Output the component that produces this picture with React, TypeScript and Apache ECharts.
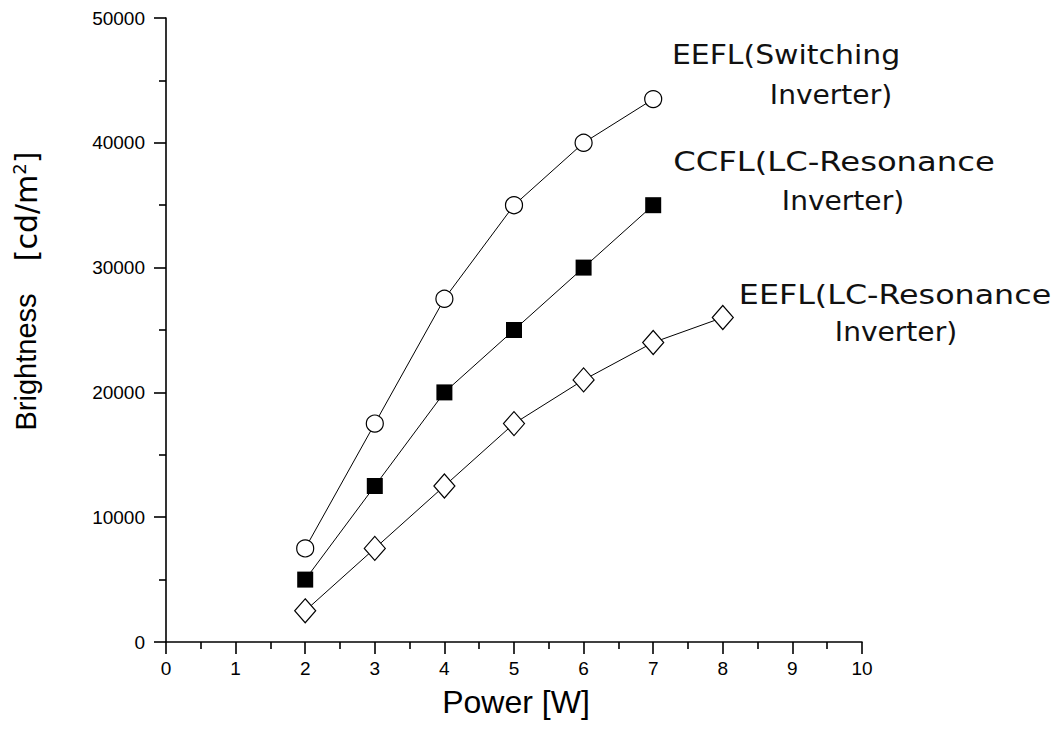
import React, { useEffect, useRef } from "react";
import * as echarts from "echarts";

const powerSwitching = [2, 3, 4, 5, 6, 7];
const eeflSwitching = [7500, 17500, 27500, 35000, 40000, 43500];
const powerCcfl = [2, 3, 4, 5, 6, 7];
const ccflLc = [5000, 12500, 20000, 25000, 30000, 35000];
const powerEeflLc = [2, 3, 4, 5, 6, 7, 8];
const eeflLc = [2500, 7500, 12500, 17500, 21000, 24000, 26000];

const annoFont = "'DejaVu Sans', sans-serif";
const axisFont = "'Liberation Sans', Arial, sans-serif";

export default function App() {
  const ref = useRef<HTMLDivElement>(null);
  useEffect(() => {
    const chart = echarts.init(ref.current!, null, { renderer: "svg" });
    const pair = (xs: number[], ys: number[]) => xs.map((x, i) => [x, ys[i]]);
    const lineStyle = { color: "#000", width: 1 };
    const anno = (text: string, x: number, y: number, sx: number) => ({
      type: "text",
      x,
      y,
      scaleX: sx,
      style: {
        text,
        fontFamily: annoFont,
        fontSize: 26,
        fill: "#111",
        align: "center",
        verticalAlign: "middle",
      },
    });
    chart.setOption({
      animation: false,
      backgroundColor: "#fff",
      grid: { left: 166, top: 18, right: 198, bottom: 103, containLabel: false },
      xAxis: {
        type: "value",
        min: 0,
        max: 10,
        interval: 1,
        axisLine: { show: true, lineStyle: { color: "#000", width: 1.6 } },
        axisTick: { show: true, inside: false, length: 12, lineStyle: { color: "#000", width: 1.6 } },
        minorTick: { show: true, splitNumber: 2, length: 7, lineStyle: { color: "#000", width: 1.6 } },
        axisLabel: { fontFamily: axisFont, fontSize: 19, color: "#000", margin: 17 },
        splitLine: { show: false },
      },
      yAxis: {
        type: "value",
        min: 0,
        max: 50000,
        interval: 10000,
        axisLine: { show: true, lineStyle: { color: "#000", width: 1.6 } },
        axisTick: { show: true, inside: false, length: 12, lineStyle: { color: "#000", width: 1.6 } },
        minorTick: { show: true, splitNumber: 2, length: 7, lineStyle: { color: "#000", width: 1.6 } },
        axisLabel: { fontFamily: axisFont, fontSize: 19, color: "#000", margin: 21, formatter: (v: number) => String(v) },
        splitLine: { show: false },
      },
      series: [
        {
          name: "EEFL(Switching Inverter)",
          type: "line",
          data: pair(powerSwitching, eeflSwitching),
          symbol: "circle",
          symbolSize: 17,
          lineStyle,
          itemStyle: { color: "#fff", borderColor: "#000", borderWidth: 1.2 },
          z: 3,
        },
        {
          name: "CCFL(LC-Resonance Inverter)",
          type: "line",
          data: pair(powerCcfl, ccflLc),
          symbol: "rect",
          symbolSize: 16,
          lineStyle,
          itemStyle: { color: "#000", borderColor: "#000", borderWidth: 0 },
          z: 3,
        },
        {
          name: "EEFL(LC-Resonance Inverter)",
          type: "line",
          data: pair(powerEeflLc, eeflLc),
          symbol: "diamond",
          symbolSize: [21, 24],
          lineStyle,
          itemStyle: { color: "#fff", borderColor: "#000", borderWidth: 1.2 },
          z: 3,
        },
      ],
      graphic: [
        anno("EEFL(Switching", 786, 55, 1.15),
        anno("Inverter)", 831, 95, 1.08),
        anno("CCFL(LC-Resonance", 834, 162, 1.24),
        anno("Inverter)", 843, 201, 1.08),
        anno("EEFL(LC-Resonance", 895, 295, 1.22),
        anno("Inverter)", 896, 332, 1.08),
        {
          type: "text",
          x: 516,
          y: 702,
          style: {
            text: "Power [W]",
            fontFamily: axisFont,
            fontSize: 32,
            fill: "#000",
            align: "center",
            verticalAlign: "middle",
          },
        },
        {
          type: "text",
          x: 26,
          y: 291,
          rotation: Math.PI / 2,
          style: {
            text: "{b|Brightness    }{u|[cd/m}{s|2}{u|]}",
            align: "center",
            verticalAlign: "middle",
            rich: {
              b: { fontFamily: axisFont, fontSize: 29, fill: "#000", color: "#000", lineHeight: 32 },
              u: { fontFamily: annoFont, fontSize: 30, fill: "#000", color: "#000", lineHeight: 32 },
              s: { fontFamily: annoFont, fontSize: 18, fill: "#000", color: "#000", verticalAlign: "top", lineHeight: 32 },
            },
          },
        },
      ],
    });
    return () => chart.dispose();
  }, []);
  return <div ref={ref} style={{ width: 1060, height: 745, position: "absolute", left: 0, top: 0 }} />;
}
